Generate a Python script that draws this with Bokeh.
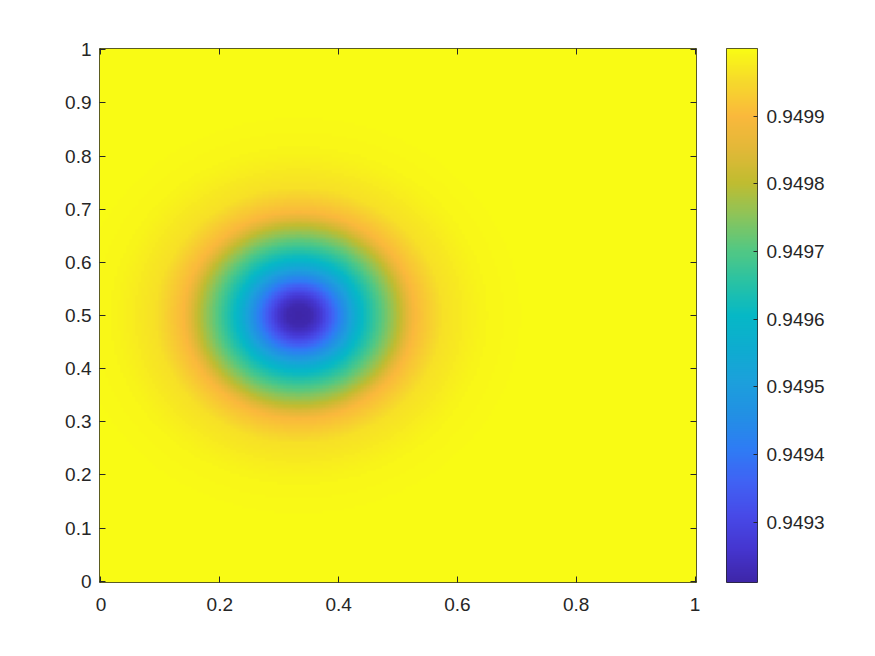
import numpy as np
from bokeh.plotting import figure
from bokeh.models import Range1d, LinearAxis, FixedTicker, LinearColorMapper
from bokeh.layouts import row
from bokeh.embed import file_html
from bokeh.resources import INLINE

# ---------------- data ----------------
center_x = 1 / 3
center_y = 0.5
# radial profile of the dip: distance from centre -> value
profile_r = [0.0, 0.02, 0.035, 0.05, 0.07, 0.105, 0.137, 0.169, 0.194, 0.24, 0.31, 0.40]
profile_v = [0.94921, 0.94922, 0.94926, 0.94933, 0.94943, 0.94960, 0.94970, 0.94980,
             0.94990, 0.94996, 0.94999, 0.95000]
grid_n = 201

x_ticks = [0, 0.2, 0.4, 0.6, 0.8, 1]
x_tick_labels = ["0", "0.2", "0.4", "0.6", "0.8", "1"]
y_ticks = [0, 0.1, 0.2, 0.3, 0.4, 0.5, 0.6, 0.7, 0.8, 0.9, 1]
y_tick_labels = ["0", "0.1", "0.2", "0.3", "0.4", "0.5", "0.6", "0.7", "0.8", "0.9", "1"]
cbar_ticks = [0.9493, 0.9494, 0.9495, 0.9496, 0.9497, 0.9498, 0.9499]
cbar_tick_labels = ["0.9493", "0.9494", "0.9495", "0.9496", "0.9497", "0.9498", "0.9499"]

# ---------------- field ----------------
gx = np.linspace(0, 1, grid_n)
gy = np.linspace(0, 1, grid_n)
XX, YY = np.meshgrid(gx, gy)
RR = np.sqrt((XX - center_x) ** 2 + (YY - center_y) ** 2)
Z = np.interp(RR, profile_r, profile_v)
low, high = float(Z.min()), float(Z.max())
h = gx[1] - gx[0]

# ---------------- parula-like palette ----------------
anchors = [
    (0.0, "#3e26a8"), (0.0625, "#4536d0"), (0.125, "#474ae8"), (0.1875, "#4062f4"),
    (0.25, "#2e7cf4"), (0.3125, "#2290e4"), (0.375, "#1ca0dc"), (0.4375, "#0eacd0"),
    (0.5, "#06b8c6"), (0.5625, "#28c2a4"), (0.625, "#54c882"), (0.6875, "#8cc45a"),
    (0.75, "#c0bc30"), (0.8125, "#e2b838"), (0.875, "#fab83c"), (0.9375, "#f6d82c"),
    (1.0, "#f9fb14"),
]
pos = np.array([a[0] for a in anchors])
rgb = np.array([[int(c[i:i + 2], 16) for i in (1, 3, 5)] for _, c in anchors], float)
t = np.linspace(0, 1, 256)
palette = ["#%02x%02x%02x" % tuple(int(round(np.interp(tt, pos, rgb[:, k]))) for k in range(3)) for tt in t]
mapper = LinearColorMapper(palette=palette, low=low, high=high)

FONT = "Liberation Sans"
FSIZE = "19px"
TXT = "#262626"

# ---------------- main plot ----------------
p = figure(frame_width=597, frame_height=534,
           x_range=Range1d(-h / 2, 1 + h / 2), y_range=Range1d(-h / 2, 1 + h / 2),
           output_backend="svg", toolbar_location=None,
           min_border_left=99, min_border_right=30, min_border_top=48, min_border_bottom=50)
p.image(image=[Z], x=-h / 2, y=-h / 2, dw=1 + h, dh=1 + h, color_mapper=mapper)
p.grid.visible = False
p.outline_line_color = TXT
p.outline_line_width = 1
p.background_fill_color = "white"
p.border_fill_color = "white"

p.add_layout(LinearAxis(), "above")
p.add_layout(LinearAxis(), "right")
for ax in p.xaxis:
    ax.ticker = FixedTicker(ticks=x_ticks)
for ax in p.yaxis:
    ax.ticker = FixedTicker(ticks=y_ticks)
for ax in p.axis:
    ax.axis_line_color = None
    ax.major_tick_in = 6
    ax.major_tick_out = 0
    ax.major_tick_line_color = TXT
    ax.minor_tick_line_color = None
    ax.major_label_text_font = FONT
    ax.major_label_text_font_size = FSIZE
    ax.major_label_text_color = TXT
p.below[0].major_label_overrides = {v: s for v, s in zip(x_ticks, x_tick_labels)}
p.below[0].major_label_standoff = 15
p.left[0].major_label_overrides = {v: s for v, s in zip(y_ticks, y_tick_labels)}
p.left[0].major_label_standoff = 8
for ax in (p.above[0], p.right[0]):
    ax.major_label_text_font_size = "0px"
    ax.major_label_text_color = None
    ax.major_label_standoff = 0

# ---------------- colour bar ----------------
c = figure(frame_width=31, frame_height=534,
           x_range=Range1d(0, 1), y_range=Range1d(low, high),
           y_axis_location="right", x_axis_location=None,
           output_backend="svg", toolbar_location=None,
           min_border_left=0, min_border_right=80, min_border_top=48, min_border_bottom=50)
grad = np.linspace(low, high, 512).reshape(512, 1)
c.image(image=[grad], x=0, y=low, dw=1, dh=high - low, color_mapper=mapper)
c.grid.visible = False
c.outline_line_color = TXT
c.background_fill_color = "white"
c.border_fill_color = "white"
ya = c.yaxis[0]
ya.ticker = FixedTicker(ticks=cbar_ticks)
ya.major_label_overrides = {v: s for v, s in zip(cbar_ticks, cbar_tick_labels)}
ya.axis_line_color = None
ya.major_tick_in = 4
ya.major_tick_out = 0
ya.major_tick_line_color = TXT
ya.minor_tick_line_color = None
ya.major_label_text_font = FONT
ya.major_label_text_font_size = FSIZE
ya.major_label_text_color = TXT
ya.major_label_standoff = 9

layout = row(p, c)
open("out.html", "w").write(file_html(layout, INLINE))
